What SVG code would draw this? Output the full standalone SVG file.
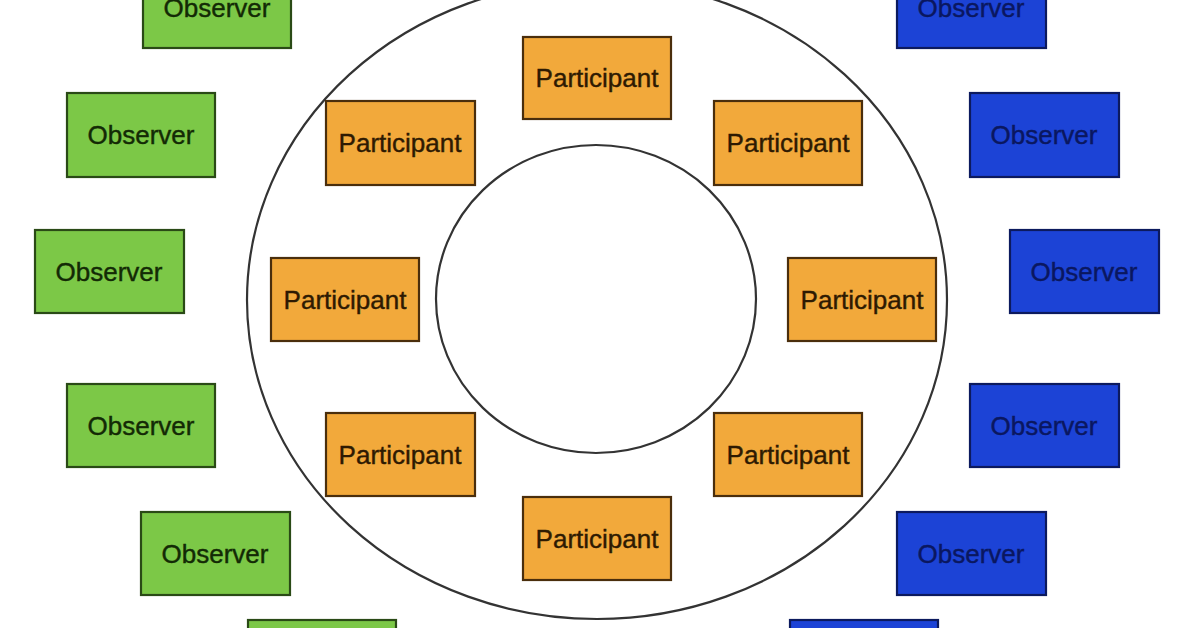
<svg xmlns="http://www.w3.org/2000/svg" width="1196" height="628" viewBox="0 0 1196 628">
<style>
.box{stroke-width:2.2}
.obsG{fill:#7cc847;stroke:#2a4a16}
.obsB{fill:#1c43d6;stroke:#0c1a5e}
.par{fill:#f2a93b;stroke:#4a2e0c}
text{font-family:"Liberation Sans",Arial,sans-serif;font-size:26px;text-anchor:middle;stroke-width:0.4}
.tG{fill:#132a05;stroke:#132a05}
.tB{fill:#0a1760;stroke:#0a1760}
.tP{fill:#2e1a02;stroke:#2e1a02}
.ring{fill:none;stroke:#333;stroke-width:2.2}
</style>
<rect width="1196" height="628" fill="#ffffff"/>
<g id="rings">
<ellipse class="ring" cx="597" cy="300" rx="350" ry="319"/>
<ellipse class="ring" cx="596" cy="299" rx="160" ry="154"/>
</g>
<g id="connectors"/>
<g id="obs-left-1"><rect class="box obsG" x="143" y="-35" width="148" height="83"/><text class="tG" x="217" y="17">Observer</text></g>
<g id="obs-left-2"><rect class="box obsG" x="67" y="93" width="148" height="84"/><text class="tG" x="141" y="144">Observer</text></g>
<g id="obs-left-3"><rect class="box obsG" x="35" y="230" width="149" height="83"/><text class="tG" x="109" y="281">Observer</text></g>
<g id="obs-left-4"><rect class="box obsG" x="67" y="384" width="148" height="83"/><text class="tG" x="141" y="435">Observer</text></g>
<g id="obs-left-5"><rect class="box obsG" x="141" y="512" width="149" height="83"/><text class="tG" x="215" y="563">Observer</text></g>
<g id="obs-left-6"><rect class="box obsG" x="248" y="620" width="148" height="83"/></g>
<g id="obs-right-1"><rect class="box obsB" x="897" y="-35" width="149" height="83"/><text class="tB" x="971" y="17">Observer</text></g>
<g id="obs-right-2"><rect class="box obsB" x="970" y="93" width="149" height="84"/><text class="tB" x="1044" y="144">Observer</text></g>
<g id="obs-right-3"><rect class="box obsB" x="1010" y="230" width="149" height="83"/><text class="tB" x="1084" y="281">Observer</text></g>
<g id="obs-right-4"><rect class="box obsB" x="970" y="384" width="149" height="83"/><text class="tB" x="1044" y="435">Observer</text></g>
<g id="obs-right-5"><rect class="box obsB" x="897" y="512" width="149" height="83"/><text class="tB" x="971" y="563">Observer</text></g>
<g id="obs-right-6"><rect class="box obsB" x="790" y="620" width="148" height="83"/></g>
<g id="par-top"><rect class="box par" x="523" y="37" width="148" height="82"/><text class="tP" x="597" y="87">Participant</text></g>
<g id="par-upper-left"><rect class="box par" x="326" y="101" width="149" height="84"/><text class="tP" x="400" y="152">Participant</text></g>
<g id="par-upper-right"><rect class="box par" x="714" y="101" width="148" height="84"/><text class="tP" x="788" y="152">Participant</text></g>
<g id="par-left"><rect class="box par" x="271" y="258" width="148" height="83"/><text class="tP" x="345" y="309">Participant</text></g>
<g id="par-right"><rect class="box par" x="788" y="258" width="148" height="83"/><text class="tP" x="862" y="309">Participant</text></g>
<g id="par-lower-left"><rect class="box par" x="326" y="413" width="149" height="83"/><text class="tP" x="400" y="464">Participant</text></g>
<g id="par-lower-right"><rect class="box par" x="714" y="413" width="148" height="83"/><text class="tP" x="788" y="464">Participant</text></g>
<g id="par-bottom"><rect class="box par" x="523" y="497" width="148" height="83"/><text class="tP" x="597" y="548">Participant</text></g>
</svg>
